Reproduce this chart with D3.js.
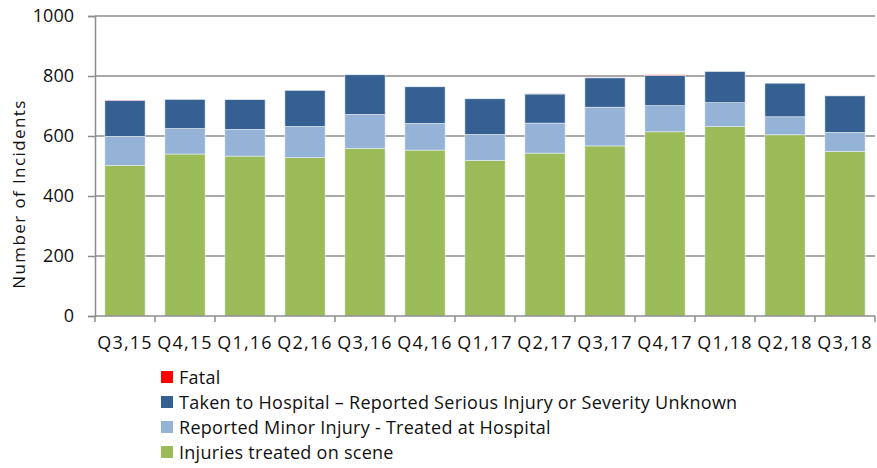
<!DOCTYPE html>
<html>
<head>
<meta charset="UTF-8">
<script src="https://d3js.org/d3.v7.min.js"></script>
<style>
  body { margin: 0; background: #fff; }
  text { font-family: "Open Sans", Lato, sans-serif; fill: #111; }
</style>
</head>
<body>
<div id="chart"></div>
<script>
var quarters = ["Q3,15","Q4,15","Q1,16","Q2,16","Q3,16","Q4,16","Q1,17","Q2,17","Q3,17","Q4,17","Q1,18","Q2,18","Q3,18"];
var onScene  = [502, 540, 533, 528, 559, 553, 519, 543, 567, 614, 631, 604, 549];
var minor    = [97, 85, 89, 104, 113, 89, 86, 100, 129, 87, 80, 60, 63];
var serious  = [120, 97, 99, 120, 132, 122, 119, 97, 98, 101, 104, 112, 122];
var fatal    = [1, 0, 0, 0, 0, 0, 0, 2, 1, 2, 0, 0, 2];
var yTicks   = [0, 200, 400, 600, 800, 1000];

var seriesNames = [
  "Injuries treated on scene",
  "Reported Minor Injury - Treated at Hospital",
  "Taken to Hospital \u2013 Reported Serious Injury or Severity Unknown",
  "Fatal"
];
var keys = ["scene", "minor", "serious", "fatal"];
var colors = ["#9bbb59", "#95b3d7", "#366092", "#ff0000"];

var data = quarters.map(function(q, i) {
  return { q: q, scene: onScene[i], minor: minor[i], serious: serious[i], fatal: fatal[i] };
});

var width = 877, height = 468;
var margin = { top: 16, left: 95, right: 2, bottom: 152 };

var svg = d3.select("#chart").append("svg")
  .attr("width", width)
  .attr("height", height);

var x = d3.scaleBand()
  .domain(quarters)
  .range([margin.left, margin.left + 60 * quarters.length])
  .paddingInner(0.33)
  .paddingOuter(0.165);

var y = d3.scaleLinear()
  .domain([0, 1000])
  .range([height - margin.bottom, margin.top]);

// gridlines
svg.append("g")
  .selectAll("line")
  .data(yTicks.slice(1))
  .enter().append("line")
  .attr("x1", margin.left)
  .attr("x2", margin.left + 60 * quarters.length)
  .attr("y1", function(d) { return y(d); })
  .attr("y2", function(d) { return y(d); })
  .attr("stroke", "#8c8c8c")
  .attr("stroke-width", 1.5);

var stack = d3.stack().keys(keys);
var layers = stack(data);

svg.append("g")
  .selectAll("g")
  .data(layers)
  .enter().append("g")
  .attr("fill", function(d, i) { return colors[i]; })
  .selectAll("rect")
  .data(function(d) { return d; })
  .enter().append("rect")
  .attr("x", function(d) { return x(d.data.q); })
  .attr("width", x.bandwidth())
  .attr("y", function(d) { return y(d[1]); })
  .attr("height", function(d) { return y(d[0]) - y(d[1]); })
  .attr("stroke", "#e8eef4")
  .attr("stroke-width", 0.6);

// y axis
var yAxis = svg.append("g")
  .attr("transform", "translate(" + margin.left + ",0)")
  .call(d3.axisLeft(y).tickValues(yTicks).tickFormat(d3.format("d")).tickSize(7).tickPadding(14));
yAxis.selectAll("line, path").attr("stroke", "#8c8c8c").attr("stroke-width", 1.5);
yAxis.selectAll("text").style("font-size", "18px");

// x axis with ticks at category boundaries
var xAxisG = svg.append("g")
  .attr("transform", "translate(0," + y(0) + ")");
xAxisG.append("line")
  .attr("x1", margin.left)
  .attr("x2", margin.left + 60 * quarters.length)
  .attr("stroke", "#8c8c8c")
  .attr("stroke-width", 1.5);
var step = x.step();
xAxisG.selectAll(".tk")
  .data(d3.range(quarters.length + 1))
  .enter().append("line")
  .attr("x1", function(i) { return margin.left + i * step; })
  .attr("x2", function(i) { return margin.left + i * step; })
  .attr("y1", 0)
  .attr("y2", 6)
  .attr("stroke", "#8c8c8c")
  .attr("stroke-width", 1.5);
xAxisG.selectAll(".lbl")
  .data(quarters)
  .enter().append("text")
  .attr("x", function(d) { return x(d) + x.bandwidth() / 2; })
  .attr("y", 33)
  .attr("text-anchor", "middle")
  .style("font-size", "18px")
  .style("letter-spacing", "1.2px")
  .text(function(d) { return d; });

// y title
svg.append("text")
  .attr("transform", "translate(25," + 194 + ") rotate(-90)")
  .attr("text-anchor", "middle")
  .style("font-size", "17px")
  .style("letter-spacing", "1.4px")
  .text("Number of Incidents");

// legend
var legendOrder = [3, 2, 1, 0];
var leg = svg.append("g").attr("transform", "translate(161,377)");
legendOrder.forEach(function(s, i) {
  var g = leg.append("g").attr("transform", "translate(0," + (i * 25) + ")");
  g.append("rect")
    .attr("x", 0).attr("y", -6)
    .attr("width", 12).attr("height", 12)
    .attr("fill", colors[s]);
  g.append("text")
    .attr("x", 18).attr("y", 6.5)
    .style("font-size", "18px")
    .style("letter-spacing", "0.27px")
    .text(seriesNames[s]);
});
</script>
</body>
</html>
